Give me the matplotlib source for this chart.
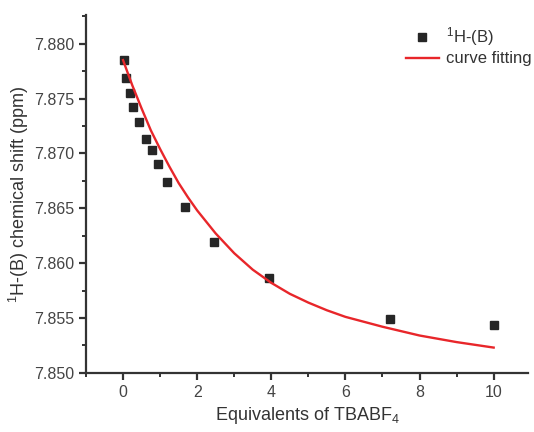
import matplotlib
matplotlib.use("Agg")
import matplotlib.pyplot as plt
from matplotlib.ticker import MultipleLocator, FormatStrFormatter

# titration data: equivalents of TBABF4 vs 1H-(B) shift
equiv = [0.02, 0.09, 0.18, 0.27, 0.44, 0.61, 0.77, 0.94, 1.19, 1.68,
         2.46, 3.95, 7.21, 10.0]
shift = [7.8785, 7.8769, 7.8755, 7.8742, 7.8729, 7.8713, 7.8703, 7.8690,
         7.8674, 7.8651, 7.8619, 7.8586, 7.8549, 7.8544]

# fitted curve
fit_x = [0, 0.25, 0.5, 0.75, 1, 1.25, 1.5, 1.75, 2, 2.5, 3, 3.5, 4, 4.5,
         5, 5.5, 6, 7, 8, 9, 10]
fit_y = [7.8785, 7.8762, 7.8741, 7.8721, 7.8704, 7.8688, 7.8673, 7.8660,
         7.8648, 7.8627, 7.8609, 7.8594, 7.8582, 7.8572, 7.8564, 7.8557,
         7.8551, 7.8542, 7.8534, 7.8528, 7.8523]

plt.rcParams['font.family'] = ['Liberation Sans', 'DejaVu Sans']
plt.rcParams['mathtext.fontset'] = 'custom'
plt.rcParams['mathtext.rm'] = 'Liberation Sans'
plt.rcParams['mathtext.it'] = 'Liberation Sans'

fig = plt.figure(figsize=(5.34, 4.32), dpi=100)
ax = fig.add_axes([0.161, 0.137, 0.828, 0.828])

ax.plot(equiv, shift, 's', color='#262626', markersize=6.3, label='$^1$H-(B)')
ax.plot(fit_x, fit_y, '-', color='#e8262a', linewidth=1.7, label='curve fitting')

ax.set_xlim(-1, 10.93)
ax.set_ylim(7.850, 7.8826)
ax.xaxis.set_major_locator(MultipleLocator(2))
ax.xaxis.set_minor_locator(MultipleLocator(1))
ax.yaxis.set_major_locator(MultipleLocator(0.005))
ax.yaxis.set_minor_locator(MultipleLocator(0.0025))
ax.yaxis.set_major_formatter(FormatStrFormatter('%.3f'))

for s in ['top', 'right']:
    ax.spines[s].set_visible(False)
for s in ['left', 'bottom']:
    ax.spines[s].set_linewidth(1.6)
    ax.spines[s].set_color('#333333')

ax.tick_params(which='major', direction='out', length=5, width=1.6,
               color='#333333', labelsize=11.5, labelcolor='#444444')
ax.tick_params(which='minor', direction='out', length=3, width=1.4,
               color='#333333')

ax.set_xlabel('Equivalents of TBABF$_4$', fontsize=13, color='#333333')
ax.set_ylabel('$^1$H-(B) chemical shift (ppm)', fontsize=13, color='#333333')
ax.yaxis.set_label_coords(-0.125, 0.5)

ax.legend(loc='upper right', bbox_to_anchor=(1.03, 1.0), frameon=False,
          fontsize=12, handlelength=2.0, labelspacing=0.2, handletextpad=0.4,
          borderpad=0.1, labelcolor='#333333')

fig.savefig('out.png', dpi=100, facecolor='white')
